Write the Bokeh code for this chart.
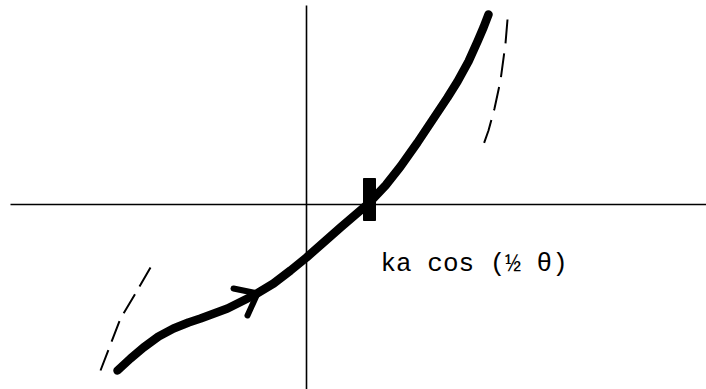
from bokeh.plotting import figure
from bokeh.models import Range1d
from bokeh.embed import file_html
from bokeh.resources import INLINE
from bokeh.core.properties import value

# Coordinates are measured from the crossing of the two axes (y up).

# Main trajectory (thick solid curve)
curve_x = [-189, -176, -163, -148, -133, -118, -106, -79, -53, -33, -16, 0, 17, 34, 48, 62,
           79, 94, 111, 127, 141, 151, 162, 171, 177, 182]
curve_y = [-166, -154, -143, -132, -124, -118, -114, -104, -91, -79, -66, -53, -38, -23, -11, 1,
           19, 38, 62, 86, 107, 123, 143, 163, 177, 190]

# Dashed asymptote, upper right
dash_hi_x = [201, 199, 194, 188, 182, 176]
dash_hi_y = [185, 161, 124, 96, 74, 57]

# Dashed asymptote, lower left
dash_lo_x = [-156, -171, -186, -206]
dash_lo_y = [-63, -89, -114, -166]

# Direction arrow on the curve
arrow_x = [-73, -49, -59]
arrow_y = [-84, -89, -111]

# Marker where the curve crosses the horizontal axis
mark_x = [63]
mark_y = [5]

label = "ka cos (\u00bd \u03b8)"

p = figure(width=706, height=389, output_backend="svg", toolbar_location=None,
           x_range=Range1d(-306, 400), y_range=Range1d(-185, 204),
           min_border=0, outline_line_color=None)
p.axis.visible = False
p.grid.visible = False
p.background_fill_color = "white"
p.border_fill_color = "white"

# Axes of the diagram
p.line([-296, 400], [0, 0], line_color="black", line_width=1.6)
p.line([0, 0], [-185, 199], line_color="black", line_width=1.6)

# Dashed curves
p.line(dash_hi_x, dash_hi_y, line_color="black", line_width=2, line_dash="24 10")
p.line(dash_lo_x, dash_lo_y, line_color="black", line_width=2, line_dash="22 9")

# Thick solid curve
p.line(curve_x, curve_y, line_color="black", line_width=8.5, line_cap="round", line_join="round")

# Arrowhead
p.line(arrow_x, arrow_y, line_color="black", line_width=6, line_cap="round", line_join="miter")

# Crossing marker
p.rect(mark_x, mark_y, width=12, height=42, fill_color="black", line_color="black")

# Label
p.text([74], [-59], text=[label], text_font=value("Liberation Mono"),
       text_font_size="26px", text_color="black", text_baseline="alphabetic")

open("out.html", "w").write(file_html(p, INLINE))
